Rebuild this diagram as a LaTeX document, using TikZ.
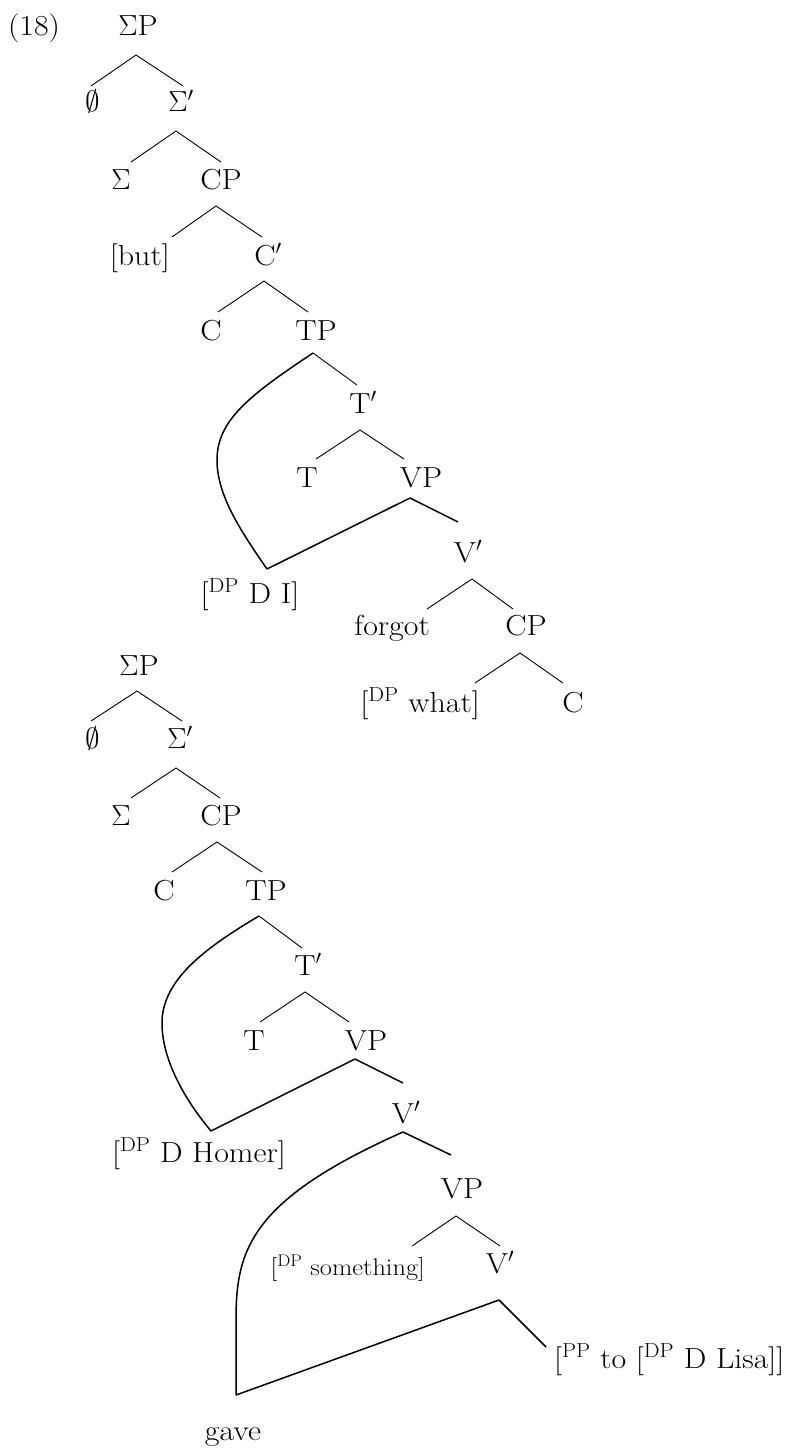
\RequirePackage{fix-cm}
\documentclass[tikz,border=0pt]{standalone}
\usepackage{fontspec}
\setmainfont{Latin Modern Roman}[FakeStretch=1.1]
\usetikzlibrary{calc}
\begin{document}
\begin{tikzpicture}[x=1pt,y=-1pt,
  lab/.style={anchor=base,inner sep=0pt,font=\fontsize{29}{34}\selectfont},
  labE/.style={lab,anchor=base east},
  labW/.style={lab,anchor=base west},
  small/.style={font=\fontsize{24}{28}\selectfont},
  br/.style={line width=0.9pt},
  mv/.style={line width=1.5pt,line join=round}]
\useasboundingbox (0,0) rectangle (796,1453);
% ---------- tree 1 ----------
\node[lab] (ex) at (34,36) {(18)};
\node[lab] (SP1) at (138,36) {$\Sigma$P};
\node[lab] (O1) at (93,112) {$\emptyset$};
\node[lab] (S1p) at (181,112) {$\Sigma'$};
\node[lab] (Sig1) at (121,189) {$\Sigma$};
\node[lab] (CP1) at (221,189) {CP};
\node[labE] (but) at (170,265) {[but]};
\node[lab] (C1p) at (268,265) {C$'$};
\node[lab] (C1) at (211,340) {C};
\node[lab] (TP1) at (316,340) {TP};
\node[lab] (T1p) at (363,413) {T$'$};
\node[lab] (T1) at (307,487) {T};
\node[lab] (VP1) at (421,487) {VP};
\node[lab] (V1p) at (468,562) {V$'$};
\node[lab] (DI) at (250,603) {[\textsuperscript{DP} D I]};
\node[labE] (forgot) at (430,635) {forgot};
\node[lab] (CP1b) at (526,635) {CP};
\node[labE] (what) at (480,712) {[\textsuperscript{DP} what]};
\node[lab] (C1b) at (573,712) {C};

\draw[br] ($(O1.base)+(-2,-26)$) -- ($(SP1.base)+(-2,19)$) -- ($(S1p.base)+(2,-26)$);
\draw[br] ($(Sig1.base)+(10,-27)$) -- ($(S1p.base)+(-5,19)$) -- ($(CP1.base)+(0,-27)$);
\draw[br] ($(but.base east)+(2,-28)$) -- ($(CP1.base)+(-5,17)$) -- ($(C1p.base)+(-6,-28)$);
\draw[br] ($(C1.base)+(7,-28)$) -- ($(C1p.base)+(-4,16)$) -- ($(TP1.base)+(-8,-28)$);
\draw[br] ($(TP1.base)+(-3,13)$) -- ($(T1p.base)+(-6,-28)$);
\draw[br] ($(T1.base)+(9,-28)$) -- ($(T1p.base)+(-3,17)$) -- ($(VP1.base)+(-17,-28)$);
\draw[mv] ($(TP1.base)+(-3,13)$) .. controls (250,395) and (217,420) .. (217,460)
   .. controls (217,495) and (240,530) .. ($(DI.base)+(17,-34)$)
   -- ($(VP1.base)+(-11,11)$) -- ($(V1p.base)+(-10,-40)$);
\draw[br] ($(forgot.base east)+(-3,-26)$) -- ($(V1p.base)+(4,17)$) -- ($(CP1b.base)+(-13,-26)$);
\draw[br] ($(what.base east)+(-5,-29)$) -- ($(CP1b.base)+(-6,18)$) -- ($(C1b.base)+(-10,-29)$);

% ---------- tree 2 ----------
\node[lab] (SP2) at (139,675) {$\Sigma$P};
\node[lab] (O2) at (93,748) {$\emptyset$};
\node[lab] (S2p) at (180,748) {$\Sigma'$};
\node[lab] (Sig2) at (121,825) {$\Sigma$};
\node[lab] (CP2) at (221,825) {CP};
\node[lab] (C2) at (164,900) {C};
\node[lab] (TP2) at (266,900) {TP};
\node[lab] (T2p) at (308,975) {T$'$};
\node[lab] (T2) at (254,1050) {T};
\node[lab] (VP2) at (366,1050) {VP};
\node[lab] (V2p) at (406,1123) {V$'$};
\node[lab] (Homer) at (199,1162) {[\textsuperscript{DP} D Homer]};
\node[lab] (VP3) at (462,1198) {VP};
\node[labE,small] (some) at (425,1275) {[\textsuperscript{DP} something]};
\node[lab] (V3p) at (500,1273) {V$'$};
\node[labW] (PP) at (554,1368) {[\textsuperscript{PP} to [\textsuperscript{DP} D Lisa]]};
\node[lab] (gave) at (233,1440) {gave};

\draw[br] ($(O2.base)+(-2,-27)$) -- ($(SP2.base)+(-2,16)$) -- ($(S2p.base)+(2,-27)$);
\draw[br] ($(Sig2.base)+(10,-27)$) -- ($(S2p.base)+(-4,20)$) -- ($(CP2.base)+(-1,-27)$);
\draw[br] ($(C2.base)+(8,-28)$) -- ($(CP2.base)+(-4,17)$) -- ($(TP2.base)+(-4,-28)$);
\draw[br] ($(TP2.base)+(-7,16)$) -- ($(T2p.base)+(-6,-27)$);
\draw[br] ($(T2.base)+(6,-28)$) -- ($(T2p.base)+(-3,17)$) -- ($(VP2.base)+(-17,-28)$);
\draw[mv] ($(TP2.base)+(-7,16)$) .. controls (205,948) and (162,980) .. (162,1023)
   .. controls (162,1060) and (185,1100) .. ($(Homer.base)+(12,-31)$)
   -- ($(VP2.base)+(-11,9)$) -- ($(V2p.base)+(-3,-40)$);
\draw[mv] ($(gave.base)+(3,-45)$) -- (236,1320) .. controls (236,1250) and (250,1200) .. ($(V2p.base)+(-3,9)$)
   -- ($(VP3.base)+(-11,-43)$);
\draw[br] ($(some.base east)+(-13,-29)$) -- ($(VP3.base)+(-6,18)$) -- ($(V3p.base)+(0,-27)$);
\draw[mv] ($(gave.base)+(3,-45)$) -- ($(V3p.base)+(-1,27)$) -- ($(PP.base west)+(-8,-21)$);
\end{tikzpicture}
\end{document}
